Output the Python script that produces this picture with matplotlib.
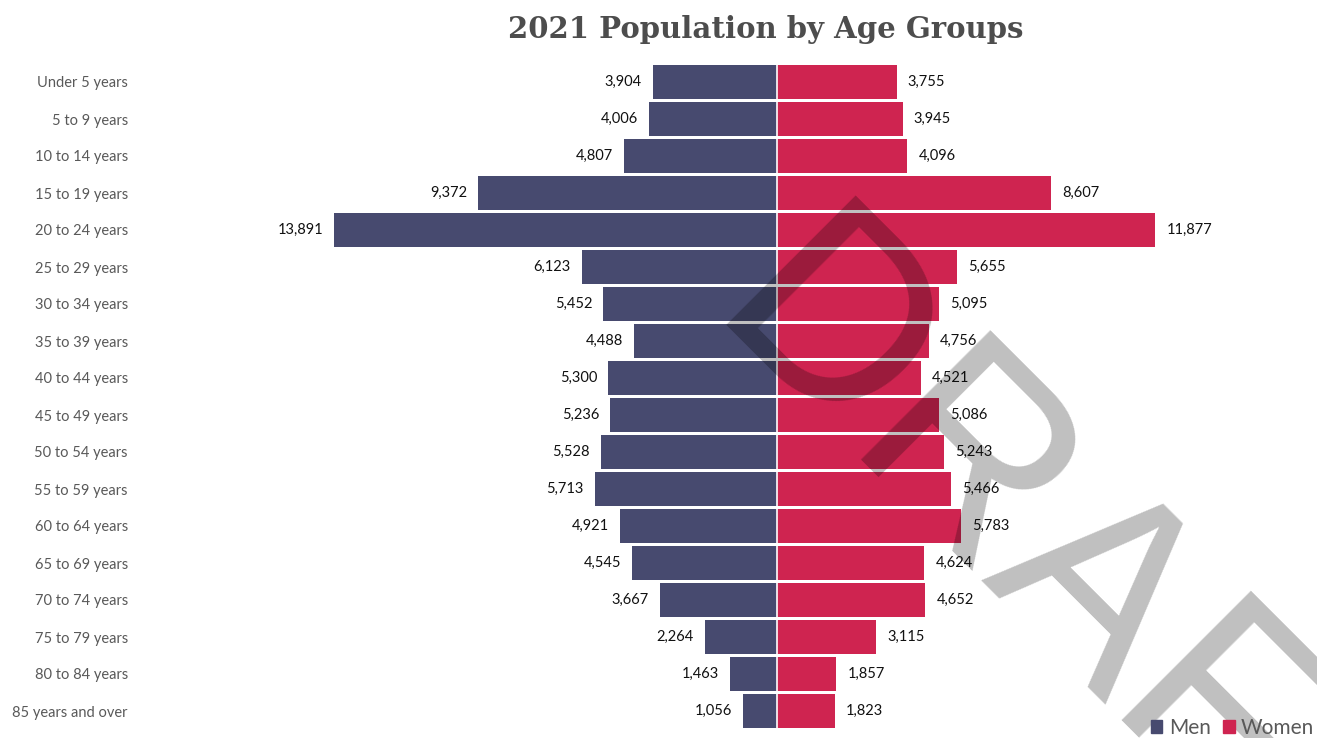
import matplotlib

matplotlib.use("Agg", force=True)
import matplotlib.pyplot as plt
from matplotlib.patches import Patch
import numpy as np

age_groups = [
    "Under 5 years", "5 to 9 years", "10 to 14 years", "15 to 19 years",
    "20 to 24 years", "25 to 29 years", "30 to 34 years", "35 to 39 years",
    "40 to 44 years", "45 to 49 years", "50 to 54 years", "55 to 59 years",
    "60 to 64 years", "65 to 69 years", "70 to 74 years", "75 to 79 years",
    "80 to 84 years", "85 years and over",
]
men = [3904, 4006, 4807, 9372, 13891, 6123, 5452, 4488, 5300, 5236,
       5528, 5713, 4921, 4545, 3667, 2264, 1463, 1056]
women = [3755, 3945, 4096, 8607, 11877, 5655, 5095, 4756, 4521, 5086,
         5243, 5466, 5783, 4624, 4652, 3115, 1857, 1823]

MEN_COLOR = "#474a6f"
WOMEN_COLOR = "#cf2450"
LABEL_GRAY = "#595959"

W, H = 1317, 738
fig = plt.figure(figsize=(W / 100, H / 100), dpi=100)
fig.patch.set_facecolor("white")

# axes placed so that zero sits at x=777 px and rows are 37 px apart
x_left, x_right = 277, 1277
y_top, y_bot = 63.5, 729.5
ax = fig.add_axes([x_left / W, 1 - y_bot / H, (x_right - x_left) / W, (y_bot - y_top) / H])
half = 500 / 0.03186
ax.set_xlim(-half, half)

y = np.arange(len(age_groups))
ax.barh(y, [-v for v in men], height=0.94, color=MEN_COLOR, zorder=2)
ax.barh(y, women, height=0.94, color=WOMEN_COLOR, zorder=2)
ax.axvline(0, color="white", lw=1.2, zorder=3)
ax.set_ylim(len(age_groups) - 0.5, -0.5)

for i, (m, w) in enumerate(zip(men, women)):
    ax.annotate(f"{m:,}", (-m, i), xytext=(-8, 0), textcoords="offset points",
                ha="right", va="center", fontsize=10.5, family="Lato",
                color="#111111", zorder=5)
    ax.annotate(f"{w:,}", (w, i), xytext=(8, 0), textcoords="offset points",
                ha="left", va="center", fontsize=10.5, family="Lato",
                color="#111111", zorder=5)

ax.set_yticks(y)
ax.set_yticklabels(age_groups, fontsize=10.5, family="Lato", color=LABEL_GRAY)
ax.tick_params(axis="y", length=0, pad=(x_left - 128) * 0.72)
ax.set_xticks([])
for side in ax.spines.values():
    side.set_visible(False)

fig.text(766 / W, 1 - 29 / H, "2021 Population by Age Groups", ha="center",
         va="center", fontsize=21, fontweight="bold", family="DejaVu Serif",
         color="#4d4d4d")

handles = [Patch(color=MEN_COLOR, label="Men"), Patch(color=WOMEN_COLOR, label="Women")]
fig.legend(handles=handles, loc="lower right", bbox_to_anchor=(1.012, -0.025),
           ncol=2, frameon=False, handlelength=0.55, handleheight=0.55,
           handletextpad=0.3, columnspacing=0.6,
           prop={"family": "Lato", "size": 15}, labelcolor=LABEL_GRAY)

# diagonal watermark over the bars
fig.text(704 / W, 1 - 324 / H, "DRAFT", rotation=-45, rotation_mode="anchor",
         ha="left", va="baseline", fontsize=191, family="Liberation Sans",
         color="black", alpha=0.25, zorder=4)

fig.savefig("out.png", dpi=100, facecolor="white")
